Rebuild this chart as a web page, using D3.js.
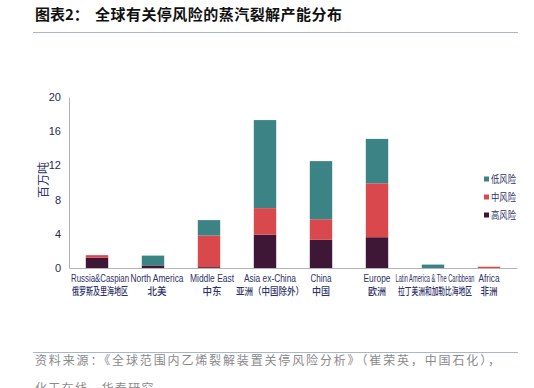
<!DOCTYPE html>
<html>
<head>
<meta charset="utf-8">
<script src="https://cdn.jsdelivr.net/npm/d3@7"></script>
<style>
  body { margin: 0; background: #fff; }
  svg { display: block; font-family: "Liberation Sans", Arial, sans-serif; }
</style>
</head>
<body>
<svg width="534" height="388"></svg>
<script>
"use strict";

// regions and stacked values (百万吨)
var regionsEn = ["Russia&Caspian", "North America", "Middle East", "Asia ex-China", "China", "Europe", "Latin America & The Caribbean", "Africa"];
var regionsCn = ["俄罗斯及里海地区", "北美", "中东", "亚洲（中国除外）", "中国", "欧洲", "拉丁美洲和加勒比海地区", "非洲"];
var highRisk = [1.2, 0.3, 0.1, 3.9, 3.3, 3.6, 0, 0];
var midRisk  = [0.3, 0, 3.7, 3.1, 2.4, 6.3, 0, 0.15];
var lowRisk  = [0, 1.15, 1.8, 10.3, 6.8, 5.2, 0.4, 0];
var seriesNames = ["高风险", "中风险", "低风险"];
var yTicks = [0, 4, 8, 12, 16, 20];

var colors = {"高风险": "#3f1736", "中风险": "#d9484d", "低风险": "#3b8385"};

var svg = d3.select("svg");

// title
svg.append("text")
  .attr("x", 35).attr("y", 20)
  .attr("font-family", "'Noto Sans CJK SC', sans-serif")
  .attr("font-size", 15).attr("font-weight", "bold")
  .attr("fill", "#111")
  .text("图表2：");
svg.append("text")
  .attr("x", 95).attr("y", 20)
  .attr("font-family", "'Noto Sans CJK SC', sans-serif")
  .attr("font-size", 15).attr("font-weight", "bold")
  .attr("fill", "#111")
  .attr("textLength", 247)
  .text("全球有关停风险的蒸汽裂解产能分布");
svg.append("line")
  .attr("x1", 33).attr("x2", 518).attr("y1", 32.5).attr("y2", 32.5)
  .attr("stroke", "#a9b7cc").attr("stroke-width", 1);

// chart
var margin = {left: 69, top: 97, right: 17},
    width = 534 - margin.left - margin.right,
    height = 268 - margin.top;
var g = svg.append("g").attr("transform", "translate(" + margin.left + "," + margin.top + ")");

var x = d3.scaleBand().domain(regionsEn).range([0, width]).paddingInner(0.6).paddingOuter(0.3);
var y = d3.scaleLinear().domain([0, 20]).range([height, 0]);

var rows = regionsEn.map(function(r, i) {
  return {region: r, "高风险": highRisk[i], "中风险": midRisk[i], "低风险": lowRisk[i]};
});
var stacked = d3.stack().keys(seriesNames)(rows);

g.append("g")
  .selectAll("g")
  .data(stacked)
  .enter().append("g")
    .attr("fill", function(d) { return colors[d.key]; })
  .selectAll("rect")
  .data(function(d) { return d; })
  .enter().append("rect")
    .attr("x", function(d) { return x(d.data.region); })
    .attr("y", function(d) { return y(d[1]); })
    .attr("height", function(d) { return y(d[0]) - y(d[1]); })
    .attr("width", x.bandwidth());

// axes
var yAxis = g.append("g")
  .call(d3.axisLeft(y).tickValues(yTicks).tickSize(0).tickPadding(8));
yAxis.select(".domain").attr("stroke", "#b4b4b4");
yAxis.selectAll("text")
  .attr("font-size", 11).attr("fill", "#2b2a55")
  .attr("font-family", "'Liberation Sans', Arial, sans-serif");

var xAxis = g.append("g")
  .attr("transform", "translate(0," + height + ")")
  .call(d3.axisBottom(x).tickSize(0).tickFormat(""));
xAxis.select(".domain").attr("stroke", "#b4b4b4");

// category labels, two lines (squeezed like the original's narrow font)
var enLen = [58, 53, 44, 52, 21, 27, 79, 21];
var cnLen = [56, 19, 19, 68, 18, 18, 74, 17];
var shift = [3, 4, 3, 5, 0, 0, 2, 0];
var labels = g.append("g").selectAll("g")
  .data(regionsEn)
  .enter().append("g")
    .attr("transform", function(d, i) { return "translate(" + (x(d) + x.bandwidth() / 2 + shift[i]) + "," + height + ")"; });
labels.append("text")
  .attr("y", 14)
  .attr("text-anchor", "middle")
  .attr("font-size", 11)
  .attr("fill", "#2e3168")
  .attr("textLength", function(d, i) { return enLen[i]; })
  .attr("lengthAdjust", "spacingAndGlyphs")
  .text(function(d) { return d; });
labels.append("text")
  .attr("y", 27)
  .attr("text-anchor", "middle")
  .attr("font-family", "'Noto Sans CJK SC', sans-serif")
  .attr("font-size", 10)
  .attr("font-weight", 500)
  .attr("fill", "#2e3168")
  .attr("textLength", function(d, i) { return cnLen[i]; })
  .attr("lengthAdjust", "spacingAndGlyphs")
  .text(function(d, i) { return regionsCn[i]; });

// y label
svg.append("text")
  .attr("transform", "translate(48,180) rotate(-90)")
  .attr("text-anchor", "middle")
  .attr("font-family", "'Noto Sans CJK SC', sans-serif")
  .attr("font-size", 12)
  .attr("fill", "#33346a")
  .text("百万吨");

// legend
var legend = svg.append("g")
  .selectAll("g")
  .data(seriesNames.slice().reverse())
  .enter().append("g")
    .attr("transform", function(d, i) { return "translate(484," + (179 + i * 18) + ")"; });
legend.append("rect")
  .attr("x", 0).attr("y", -2.5)
  .attr("width", 5).attr("height", 5)
  .attr("fill", function(d) { return colors[d]; });
legend.append("text")
  .attr("x", 7).attr("y", 0)
  .attr("dy", "0.35em")
  .attr("font-family", "'Noto Sans CJK SC', sans-serif")
  .attr("font-size", 10)
  .attr("fill", "#2e3168")
  .attr("textLength", 25).attr("lengthAdjust", "spacingAndGlyphs")
  .text(function(d) { return d; });

// source
svg.append("line")
  .attr("x1", 33).attr("x2", 518).attr("y1", 352.5).attr("y2", 352.5)
  .attr("stroke", "#a9b7cc").attr("stroke-width", 1);
svg.append("text")
  .attr("x", 35).attr("y", 365)
  .attr("font-family", "'Noto Sans CJK SC', sans-serif")
  .attr("font-size", 12)
  .attr("fill", "#8a8a8a")
  .attr("textLength", 465)
  .text("资料来源：《全球范围内乙烯裂解装置关停风险分析》（崔荣英，中国石化），");
svg.append("text")
  .attr("x", 35).attr("y", 393)
  .attr("font-family", "'Noto Sans CJK SC', sans-serif")
  .attr("font-size", 12)
  .attr("fill", "#8a8a8a")
  .attr("letter-spacing", 1.3)
  .text("化工在线，华泰研究");
</script>
</body>
</html>
